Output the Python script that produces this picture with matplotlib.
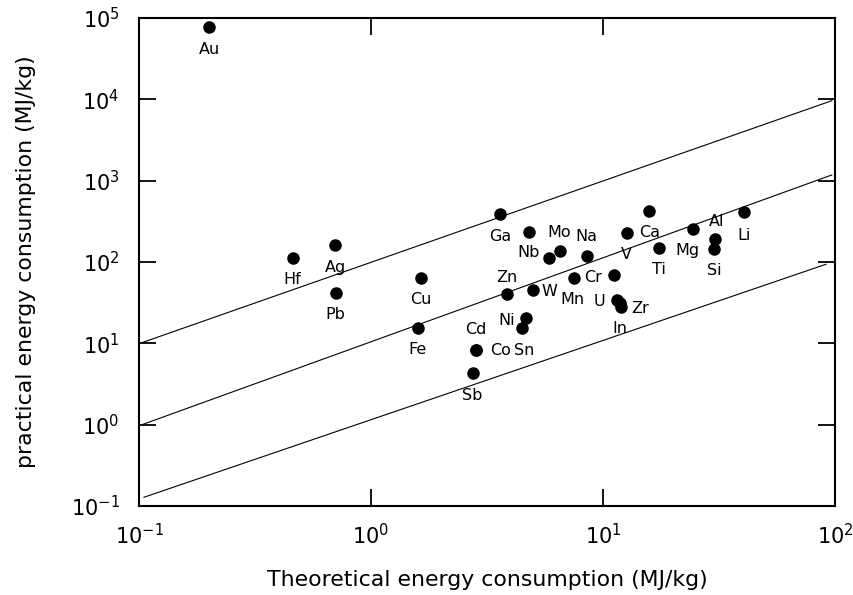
import numpy as np
import matplotlib
matplotlib.use('Agg')
import matplotlib.pyplot as plt
from matplotlib.ticker import LogLocator, NullLocator

# fuentes
plt.rcParams['font.family'] = ['DejaVu Sans']
plt.rcParams['mathtext.fontset'] = 'custom'
plt.rcParams['mathtext.rm'] = 'Liberation Sans'
plt.rcParams['mathtext.it'] = 'Liberation Sans'

# datos: energía teórica y práctica por metal (MJ/kg)
metals = ['Au', 'Hf', 'Ag', 'Pb', 'Cu', 'Fe', 'Ga', 'Nb', 'Mo', '', 'Na',
          'V', 'Ca', 'Ti', 'Mg', 'Al', 'Si', 'Li', 'Zn', 'W', 'Mn', 'Cr',
          'U', 'In', 'Zr', 'Ni', 'Sn', 'Co', 'Cd', 'Sb']
theoretical = [0.201, 0.459, 0.700, 0.703, 1.64, 1.59, 3.60, 4.80, 6.53, 5.85, 8.51,
               12.65, 15.8, 17.4, 24.4, 30.4, 30.2, 40.6, 3.85, 4.98, 7.48, 11.2,
               11.5, 11.8, 12.0, 4.64, 4.47, 2.84, 2.84, 2.74]
practical = [76900, 113, 160, 41.6, 64.1, 15.6, 386, 234, 136, 111, 119,
             230, 427, 147, 252, 190, 143, 412, 40.1, 45.7, 64.2, 69.2,
             34.0, 31.0, 27.8, 20.3, 15.3, 8.28, 8.28, 4.28]

# rectas de referencia
ref_x_upper = [0.104, 96.8]
ref_y_upper = [10.3, 9620]
ref_x_mid = [0.104, 96.8]
ref_y_mid = [1.01, 1175]
ref_x_low = [0.105, 91.4]
ref_y_low = [0.128, 93.8]

# desplazamiento de cada etiqueta (pixeles)
offsets = {
    'Au': (0, -22), 'Hf': (0, -22), 'Ag': (0, -22), 'Pb': (0, -22),
    'Cu': (0, -22), 'Fe': (0, -22), 'Ga': (0, -22), 'Nb': (-1, -21),
    'Mo': (-1, 19), 'Na': (0, 19), 'V': (0, -22), 'Ca': (0, -22),
    'Ti': (0, -21), 'Mg': (-5, -21), 'Al': (2, 18), 'Si': (0, -21),
    'Li': (0, -23), 'Zn': (0, 17), 'W': (17, -2), 'Mn': (-1, -22),
    'Cr': (-21, -2), 'U': (-18, -1), 'In': (0, -25), 'Zr': (19, -1),
    'Ni': (-19, -2), 'Sn': (2, -22), 'Co': (24, 0), 'Cd': (0, 21),
    'Sb': (0, -22),
}

fig = plt.figure(figsize=(8.54, 5.95), dpi=100)
ax = fig.add_axes([0.1628, 0.1496, 0.8150, 0.8201])

ax.plot(ref_x_upper, ref_y_upper, color='black', lw=0.8)
ax.plot(ref_x_mid, ref_y_mid, color='black', lw=0.8)
ax.plot(ref_x_low, ref_y_low, color='black', lw=0.8)

ax.scatter(theoretical, practical, s=64, color='black', zorder=3)

for name, x, y in zip(metals, theoretical, practical):
    if not name:
        continue
    ax.annotate(name, (x, y), xytext=offsets[name], textcoords='offset pixels',
                ha='center', va='center', fontsize=11.5)

ax.set_xscale('log')
ax.set_yscale('log')
ax.set_xlim(0.1, 100)
ax.set_ylim(0.1, 1e5)
ax.xaxis.set_major_locator(LogLocator(base=10, numticks=10))
ax.yaxis.set_major_locator(LogLocator(base=10, numticks=10))
ax.xaxis.set_minor_locator(NullLocator())
ax.yaxis.set_minor_locator(NullLocator())

ax.tick_params(which='major', direction='in', length=12, width=1.3,
               top=True, right=True, labelsize=15)
ax.tick_params(axis='x', pad=12)
ax.tick_params(axis='y', pad=14)
for sp in ax.spines.values():
    sp.set_linewidth(1.5)

ax.set_xlabel('Theoretical energy consumption (MJ/kg)', fontsize=15.8, labelpad=16)
ax.set_ylabel('practical energy consumption (MJ/kg)', fontsize=15.8, labelpad=25)

fig.savefig('out.png', dpi=100)
